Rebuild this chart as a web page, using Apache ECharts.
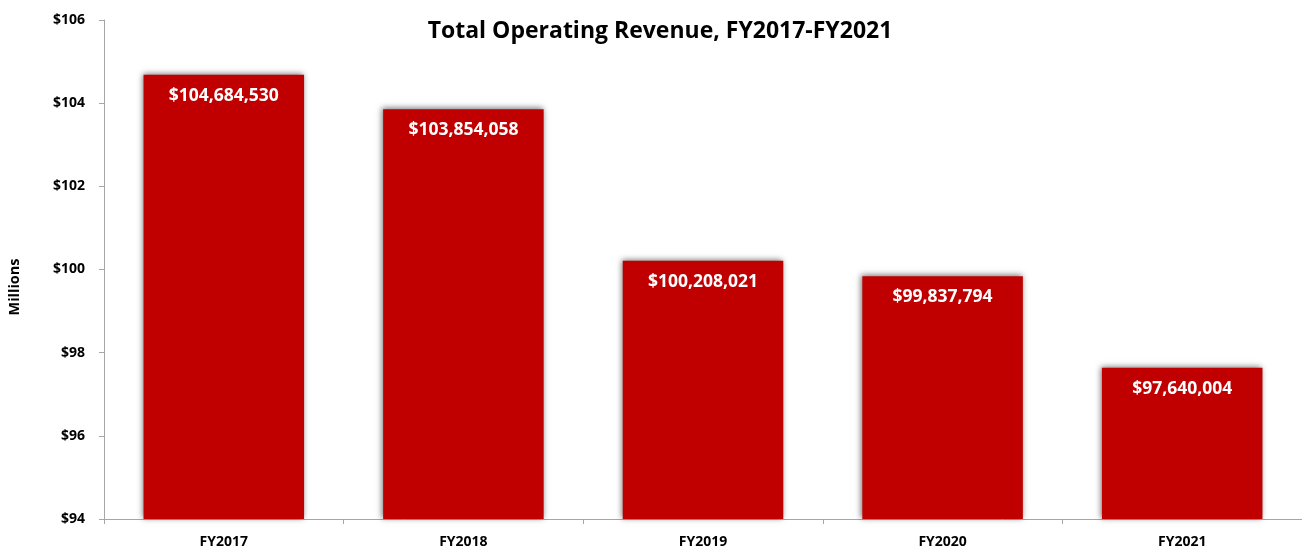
<!DOCTYPE html>
<html>
<head>
<meta charset="utf-8">
<script src="https://cdn.jsdelivr.net/npm/echarts@6/dist/echarts.min.js"></script>
<style>
  html, body { margin: 0; padding: 0; background: #fff; }
  #chart { width: 1302px; height: 551px; }
</style>
</head>
<body>
<div id="chart"></div>
<script>
// Fiscal years and total operating revenue (dollars)
const categories = ['FY2017', 'FY2018', 'FY2019', 'FY2020', 'FY2021'];
const revenue = [104684530, 103854058, 100208021, 99837794, 97640004];

// Axis range in millions
const yMin = 94;
const yMax = 106;
const yStep = 2;

const FONT = '"Open Sans", "Liberation Sans", sans-serif';

const chart = echarts.init(document.getElementById('chart'), null, { renderer: 'canvas' });

const fmtDollars = v => '$' + Math.round(v).toLocaleString('en-US');

chart.setOption({
  animation: false,
  backgroundColor: '#ffffff',
  title: {
    text: 'Total Operating Revenue, FY2017-FY2021',
    left: 655,
    top: 15,
    textAlign: 'center',
    textStyle: { fontFamily: FONT, fontWeight: 'bold', fontSize: 23, color: '#000' }
  },
  // Vertical unit caption beside the value axis
  graphic: [{
    type: 'text',
    x: 15,
    y: 287,
    rotation: Math.PI / 2,
    style: {
      text: 'Millions',
      fontFamily: FONT,
      fontWeight: 'bold',
      fontSize: 14.5,
      fill: '#000',
      align: 'center',
      verticalAlign: 'middle'
    }
  }],
  grid: { left: 104, right: 0, top: 20, bottom: 32, containLabel: false },
  xAxis: {
    type: 'category',
    data: categories,
    axisLine: { lineStyle: { color: '#a6a6a6', width: 1 } },
    axisTick: { show: true, alignWithLabel: false, length: 5, lineStyle: { color: '#a6a6a6' } },
    axisLabel: { fontFamily: FONT, fontWeight: 'bold', fontSize: 14, color: '#000', margin: 16 }
  },
  yAxis: {
    type: 'value',
    min: yMin,
    max: yMax,
    interval: yStep,
    axisLine: { show: true, lineStyle: { color: '#a6a6a6', width: 1 } },
    axisTick: { show: true, length: 5, lineStyle: { color: '#a6a6a6' } },
    splitLine: { show: false },
    axisLabel: {
      fontFamily: FONT, fontWeight: 'bold', fontSize: 14, color: '#000', margin: 19,
      formatter: v => '$' + v
    }
  },
  series: [{
    type: 'bar',
    data: revenue.map(v => v / 1e6),
    barWidth: '67%',
    itemStyle: {
      color: '#c00000',
      shadowColor: 'rgba(0,0,0,0.55)',
      shadowBlur: 6,
      shadowOffsetX: -1,
      shadowOffsetY: -1
    },
    label: {
      show: true,
      position: 'insideTop',
      distance: 12,
      fontFamily: FONT,
      fontWeight: 'bold',
      fontSize: 17.5,
      color: '#fff',
      formatter: p => fmtDollars(revenue[p.dataIndex])
    }
  }]
});
</script>
</body>
</html>
